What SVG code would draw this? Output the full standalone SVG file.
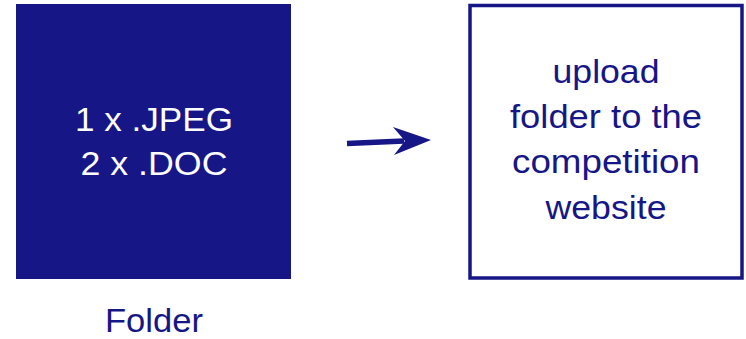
<svg xmlns="http://www.w3.org/2000/svg" width="746" height="339" viewBox="0 0 746 339">
<style>
.t{font-family:"Liberation Sans",Arial,sans-serif;font-size:33px;text-anchor:middle;}
.w{fill:#ffffff;}
.b{fill:#161687;}
</style>
<rect width="746" height="339" fill="#ffffff"/>
<g id="folder">
<rect x="16" y="4" width="275" height="275" fill="#161687"/>
<text class="t w" x="154" y="131" textLength="158" lengthAdjust="spacingAndGlyphs">1 x .JPEG</text>
<text class="t w" x="154" y="175" textLength="147" lengthAdjust="spacingAndGlyphs">2 x .DOC</text>
<text class="t b" x="154" y="332" textLength="98" lengthAdjust="spacingAndGlyphs">Folder</text>
</g>
<g id="upload">
<rect x="470" y="5.5" width="272" height="272.5" fill="#ffffff" stroke="#161687" stroke-width="3.5"/>
<text class="t b" x="606" y="83" textLength="107" lengthAdjust="spacingAndGlyphs">upload</text>
<text class="t b" x="606" y="128" textLength="192" lengthAdjust="spacingAndGlyphs">folder to the</text>
<text class="t b" x="606" y="173" textLength="188" lengthAdjust="spacingAndGlyphs">competition</text>
<text class="t b" x="606" y="219" textLength="121" lengthAdjust="spacingAndGlyphs">website</text>
</g>
<g id="connectors">
<path d="M347 143.5 L404 141" stroke="#161687" stroke-width="5.5" fill="none"/>
<polygon points="393,127 431,140 394,155 405,141" fill="#161687"/>
</g>
</svg>
